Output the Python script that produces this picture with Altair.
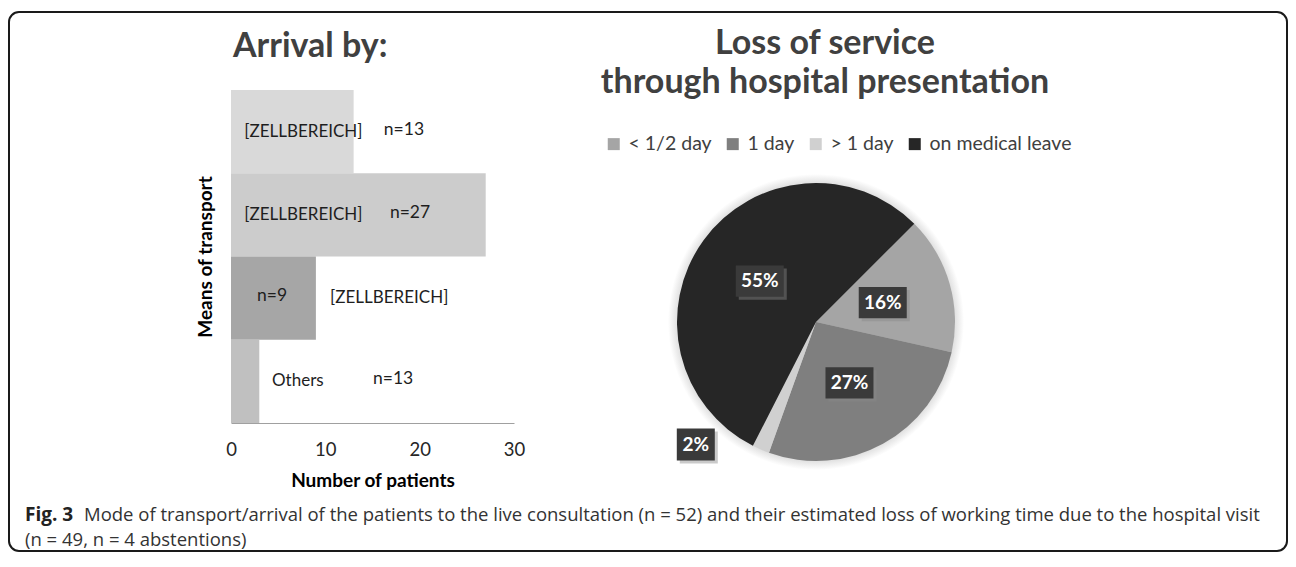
import math
import altair as alt
import pandas as pd

# ---------------- data: arrival (bar chart) ----------------
bar_rows = ["r1", "r2", "r3", "r4"]
bar_names = ["[ZELLBEREICH]", "[ZELLBEREICH]", "[ZELLBEREICH]", "Others"]
bar_counts = [13, 27, 9, 3]
bar_n_labels = ["n=13", "n=27", "n=9", "n=13"]
x_ticks = [0, 10, 20, 30]

# manual label placement of the original figure (in "number of patients" units)
name_label_x = [1.4, 1.4, 10.5, 4.35]
count_label_x = [16.2, 16.85, 2.76, 15.05]

# ---------------- data: loss of service (pie) ----------------
loss_cats = ["< 1/2 day", "1 day", "> 1 day", "on medical leave"]
loss_pct = [16, 27, 2, 55]

# ---------------- styles ----------------
bar_colors = ["#d9d9d9", "#cccccc", "#a6a6a6", "#c0c0c0"]
loss_colors = ["#a5a5a5", "#7f7f7f", "#d0d0d0", "#262626"]
FONT = "Lato"
CAP_FONT = "Open Sans"
W, H = 1280, 544

bar_df = pd.DataFrame({
    "row": bar_rows, "name": bar_names, "count": bar_counts,
    "nlab": bar_n_labels, "name_x": name_label_x, "count_x": count_label_x,
})
pie_df = pd.DataFrame({"cat": loss_cats, "pct": loss_pct, "idx": list(range(len(loss_cats)))})
one = pd.DataFrame({"k": [0]})

START = math.pi / 4
X_RANGE = [223, 506]
Y_RANGE = [82, 415]
CX, CY, R = 808, 314, 139


def xs():
    return alt.Scale(domain=[0, 30], range=X_RANGE, nice=False, zero=True)


def ys():
    return alt.Scale(domain=bar_rows, range=Y_RANGE, paddingInner=0, paddingOuter=0)


bars = alt.Chart(bar_df).mark_bar().encode(
    x=alt.X("count:Q", scale=xs(), axis=alt.Axis(
        values=x_ticks, title="Number of patients", offset=-(H - Y_RANGE[1]),
        grid=False, ticks=False, tickSize=0, domainColor="#a0a0a0", domainWidth=1,
        labelFont=FONT, labelFontSize=18.5, labelColor="#262626", labelPadding=17,
        labelFlush=False, titleFont=FONT, titleFontSize=19, titleFontWeight="bold",
        titleColor="#000000", titlePadding=13)),
    y=alt.Y("row:N", sort=bar_rows, scale=ys(), axis=alt.Axis(
        labels=False, ticks=False, domain=False, grid=False, title="Means of transport",
        offset=-X_RANGE[0], titlePadding=16, titleFont=FONT, titleFontSize=19,
        titleFontWeight="bold", titleColor="#000000")),
    color=alt.Color("row:N", scale=alt.Scale(domain=bar_rows, range=bar_colors), legend=None),
)

name_text = alt.Chart(bar_df).mark_text(
    align="left", baseline="middle", font=FONT, fontSize=17, color="#1e1e1e"
).encode(
    x=alt.X("name_x:Q", scale=xs(), axis=None),
    y=alt.Y("row:N", sort=bar_rows, scale=ys(), axis=None),
    text="name:N",
)
count_text = alt.Chart(bar_df).mark_text(
    align="left", baseline="middle", font=FONT, fontSize=17.5, color="#1e1e1e", dy=-2
).encode(
    x=alt.X("count_x:Q", scale=xs(), axis=None),
    y=alt.Y("row:N", sort=bar_rows, scale=ys(), axis=None),
    text="nlab:N",
)

# soft shadow around the pie
pie_shadow = alt.Chart(one).mark_arc(
    radius=R + 9, theta=0, theta2=2 * math.pi,
    color=alt.Gradient(
        gradient="radial",
        stops=[alt.GradientStop(color="#c4c4c4", offset=0),
               alt.GradientStop(color="#ffffff", offset=1)],
        x1=0.5, y1=0.5, x2=0.5, y2=0.5, r1=0.44, r2=0.5),
).encode(x=alt.value(CX), y=alt.value(CY))

pie = alt.Chart(pie_df).mark_arc(radius=R).encode(
    theta=alt.Theta("pct:Q", stack=True,
                    scale=alt.Scale(range=[START, START + 2 * math.pi])),
    color=alt.Color("cat:N", scale=alt.Scale(domain=loss_cats, range=loss_colors),
                    legend=alt.Legend(
                        title=None, orient="none", direction="horizontal",
                        legendX=596, legendY=126, symbolType="square", symbolSize=144,
                        symbolStrokeWidth=0, labelFont=FONT, labelFontSize=19.5,
                        labelColor="#404040", labelOffset=5, columnPadding=11,
                        labelLimit=300)),
    order=alt.Order("idx:Q"),
    x=alt.value(CX), y=alt.value(CY),
)

lab_base = alt.Chart(pie_df).transform_window(
    cum="sum(pct)", sort=[alt.SortField("idx")]
).transform_joinaggregate(total="sum(pct)").transform_calculate(
    mid=f"{START} + 2*PI*(datum.cum - datum.pct/2)/datum.total",
    rr="datum.pct < 5 ? 1.0 : 0.5",
    lx="datum.rr*sin(datum.mid)",
    ly="datum.rr*cos(datum.mid)",
    txt="datum.pct + '%'",
)
lx = alt.X("lx:Q", scale=alt.Scale(domain=[-1, 1], range=[CX - R, CX + R]), axis=None)
ly = alt.Y("ly:Q", scale=alt.Scale(domain=[-1, 1], range=[CY + R, CY - R]), axis=None)

BOX_IN = "M-1,-0.65L1,-0.65L1,0.65L-1,0.65Z"
BOX_OUT = "M-1,-0.84L1,-0.84L1,0.84L-1,0.84Z"
inner = lab_base.transform_filter("datum.pct >= 5")
outer = lab_base.transform_filter("datum.pct < 5")
OX, OY = -65, -5

box_in_sh = inner.mark_point(shape=BOX_IN, size=48 * 48, filled=True, color="#8a8a8a",
                             opacity=0.45, strokeWidth=0, xOffset=3, yOffset=3).encode(x=lx, y=ly)
box_in = inner.mark_point(shape=BOX_IN, size=48 * 48, filled=True, color="#3a3a3a",
                          opacity=1, strokeWidth=0).encode(x=lx, y=ly)
txt_in = inner.mark_text(font=FONT, fontSize=19, fontWeight="bold", color="#ffffff",
                         align="center", baseline="middle").encode(x=lx, y=ly, text="txt:N")
box_out_sh = outer.mark_point(shape=BOX_OUT, size=38 * 38, filled=True, color="#8a8a8a",
                              opacity=0.45, strokeWidth=0, xOffset=OX + 3,
                              yOffset=OY + 3).encode(x=lx, y=ly)
box_out = outer.mark_point(shape=BOX_OUT, size=38 * 38, filled=True, color="#3a3a3a",
                           opacity=1, strokeWidth=0, xOffset=OX, yOffset=OY).encode(x=lx, y=ly)
txt_out = outer.mark_text(font=FONT, fontSize=19, fontWeight="bold", color="#ffffff",
                          align="center", baseline="middle", dx=OX, dy=OY).encode(
    x=lx, y=ly, text="txt:N")


def label(text, x, y, size, weight="normal", color="#404040", align="left", font=FONT,
          baseline="middle"):
    return alt.Chart(one).mark_text(
        font=font, fontSize=size, fontWeight=weight, color=color, align=align,
        baseline=baseline).encode(x=alt.value(x), y=alt.value(y), text=alt.value(text))


t_arrival = label("Arrival by:", 225, 49, 34, "bold", baseline="alphabetic")
t_loss1 = label("Loss of service", 817, 46, 34, "bold", align="center", baseline="alphabetic")
t_loss2 = label("through hospital presentation", 817, 85, 34, "bold", align="center",
                baseline="alphabetic")
cap1a = label("Fig. 3", 17, 507, 19, "bold", "#222222", font=CAP_FONT)
cap1b = label("Mode of transport/arrival of the patients to the live consultation (n = 52) and "
              "their estimated loss of working time due to the hospital visit",
              76, 507, 18.5, "normal", "#333333", font=CAP_FONT)
cap2 = label("(n = 49, n = 4 abstentions)", 17, 532, 18.5, "normal", "#333333", font=CAP_FONT)

border = alt.Chart(one).mark_rect(
    cornerRadius=10, fillOpacity=0, fill="#ffffff", stroke="#1a1a1a", strokeWidth=2
).encode(x=alt.value(1), x2=alt.value(W - 1), y=alt.value(4), y2=alt.value(H - 1))

chart = alt.layer(
    border, bars, name_text, count_text,
    pie_shadow, pie, box_in_sh, box_in, txt_in, box_out_sh, box_out, txt_out,
    t_arrival, t_loss1, t_loss2, cap1a, cap1b, cap2,
).resolve_scale(
    x="independent", y="independent", color="independent", theta="independent"
).properties(
    width=W, height=H, padding=0, autosize=alt.AutoSizeParams(type="none"),
).configure_view(stroke=None)

chart.save("out.html", embed_options={"renderer": "svg", "actions": False})
